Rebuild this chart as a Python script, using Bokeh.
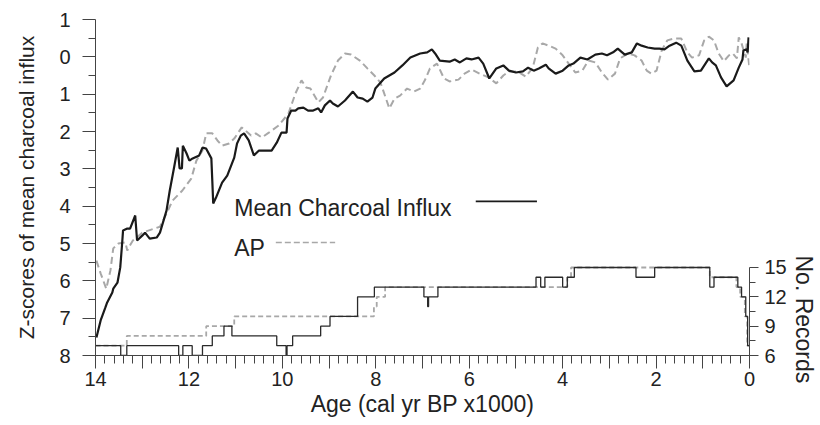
from bokeh.plotting import figure
from bokeh.models import Range1d, LinearAxis, FixedTicker, Label, Title
from bokeh.embed import file_html
from bokeh.resources import INLINE

# ---------------- data ----------------
charcoal_age = [13.98, 13.89, 13.79, 13.75, 13.64, 13.62, 13.53, 13.47, 13.43, 13.41, 13.32, 13.26,
                13.15, 13.11, 13.00, 12.94, 12.84, 12.69, 12.62, 12.48, 12.41, 12.31, 12.24, 12.20,
                12.15, 12.13, 12.05, 11.99, 11.92, 11.78, 11.71, 11.63, 11.52, 11.50, 11.48, 11.42,
                11.29, 11.18, 11.08, 11.03, 10.97, 10.89, 10.82, 10.72, 10.61, 10.50, 10.36, 10.23,
                10.12, 10.02, 9.91, 9.89, 9.81, 9.72, 9.66, 9.55, 9.45, 9.34, 9.23, 9.17, 9.09, 8.98,
                8.92, 8.81, 8.66, 8.49, 8.39, 8.28, 8.18, 8.07, 8.01, 7.82, 7.60, 7.43, 7.26, 7.05,
                6.90, 6.80, 6.73, 6.63, 6.42, 6.31, 6.20, 6.06, 5.95, 5.80, 5.70, 5.57, 5.42, 5.27,
                5.15, 5.00, 4.85, 4.74, 4.62, 4.51, 4.36, 4.30, 4.15, 4.00, 3.87, 3.77, 3.62, 3.47,
                3.30, 3.16, 3.05, 2.92, 2.82, 2.67, 2.52, 2.41, 2.31, 2.18, 2.03, 1.93, 1.82, 1.71,
                1.57, 1.46, 1.33, 1.18, 1.04, 0.87, 0.80, 0.72, 0.61, 0.49, 0.34, 0.23, 0.15, 0.13,
                0.06, 0.04, 0.02]
charcoal_z = [-7.52, -7.06, -6.72, -6.58, -6.31, -6.21, -6.05, -5.64, -5.00, -4.65, -4.60, -4.60,
              -4.25, -4.92, -4.79, -4.71, -4.87, -4.84, -4.71, -4.12, -3.58, -2.91, -2.43, -2.99,
              -2.99, -2.38, -2.59, -2.78, -2.72, -2.64, -2.43, -2.46, -2.72, -3.31, -3.93, -3.77,
              -3.37, -3.18, -2.86, -2.70, -2.32, -2.11, -2.05, -2.24, -2.64, -2.51, -2.51, -2.51,
              -2.30, -2.03, -2.03, -1.65, -1.44, -1.44, -1.38, -1.36, -1.44, -1.44, -1.38, -1.49,
              -1.30, -1.17, -1.25, -1.33, -1.17, -0.93, -1.09, -1.12, -1.20, -1.09, -0.85, -0.58,
              -0.42, -0.23, -0.02, 0.09, 0.12, 0.20, 0.09, -0.10, -0.13, -0.07, -0.15, -0.04, -0.07,
              -0.02, -0.18, -0.58, -0.31, -0.23, -0.37, -0.42, -0.39, -0.29, -0.37, -0.31, -0.21,
              -0.31, -0.45, -0.37, -0.23, -0.18, -0.02, -0.07, 0.06, 0.09, 0.04, 0.12, 0.22, 0.06,
              0.12, 0.36, 0.30, 0.25, 0.22, 0.22, 0.20, 0.30, 0.38, 0.30, -0.10, -0.39, -0.37,
              -0.04, -0.15, -0.23, -0.55, -0.79, -0.63, -0.29, -0.07, 0.17, 0.20, 0.12, 0.52]

ap_age = [13.98, 13.89, 13.77, 13.68, 13.62, 13.51, 13.36, 13.32, 13.26, 13.20, 13.00, 12.62,
          12.48, 12.35, 12.14, 11.95, 11.84, 11.71, 11.63, 11.50, 11.39, 11.29, 11.14, 11.03,
          10.87, 10.67, 10.57, 10.44, 10.29, 10.08, 9.87, 9.72, 9.59, 9.49, 9.40, 9.23, 9.13,
          8.96, 8.81, 8.66, 8.53, 8.34, 8.18, 8.03, 7.90, 7.82, 7.71, 7.60, 7.48, 7.33, 7.18,
          7.05, 6.95, 6.84, 6.69, 6.54, 6.42, 6.23, 6.10, 5.95, 5.78, 5.59, 5.42, 5.27, 5.15,
          4.96, 4.79, 4.64, 4.53, 4.43, 4.30, 4.15, 4.00, 3.87, 3.73, 3.58, 3.45, 3.30, 3.16,
          3.03, 2.88, 2.77, 2.60, 2.46, 2.31, 2.20, 2.10, 1.99, 1.88, 1.76, 1.61, 1.46, 1.33,
          1.23, 1.08, 0.97, 0.87, 0.76, 0.66, 0.55, 0.44, 0.36, 0.27, 0.23, 0.17, 0.08, 0.06, 0.00]
ap_z = [-5.46, -5.80, -6.21, -5.72, -5.13, -5.00, -4.97, -5.19, -5.05, -4.92, -4.71, -4.55,
        -4.20, -3.85, -3.58, -3.26, -2.78, -2.51, -2.05, -2.05, -2.24, -2.38, -2.32, -2.19,
        -1.89, -2.11, -2.05, -2.16, -2.03, -1.84, -1.52, -0.98, -0.63, -0.82, -0.85, -1.22,
        -1.09, -0.50, -0.10, 0.09, 0.06, -0.10, -0.31, -0.50, -0.69, -0.98, -1.38, -1.12,
        -1.04, -0.85, -0.93, -0.85, -0.63, -0.31, -0.18, -0.58, -0.66, -0.61, -0.45, -0.34,
        -0.45, -0.55, -0.71, -0.50, -0.39, -0.39, -0.53, -0.29, 0.25, 0.36, 0.30, 0.22, 0.04,
        -0.18, -0.42, -0.37, -0.10, -0.15, -0.42, -0.61, -0.45, -0.04, 0.09, 0.04, -0.10,
        -0.37, -0.45, -0.37, 0.17, 0.44, 0.49, 0.49, 0.12, -0.02, 0.04, 0.44, 0.54, 0.44,
        0.09, -0.12, 0.04, 0.09, -0.04, 0.52, 0.36, -0.02, 0.36, -0.31]

rec_charcoal_age = [14.0, 13.46, 13.33, 12.22, 12.13, 11.93, 11.71, 11.50, 11.25, 11.08, 10.12,
                    9.92, 9.90, 9.78, 9.18, 8.98, 8.39, 8.03, 6.97, 6.89, 6.87, 6.67, 4.57, 4.47,
                    4.38, 4.00, 3.90, 3.75, 2.43, 2.03, 0.85, 0.76, 0.25, 0.17, 0.08, 0.04, 0.0]
rec_charcoal_n = [7, 6, 7, 6, 7, 6, 7, 8, 9, 8, 7, 6, 7, 8, 9, 10, 12, 13, 12, 11, 12, 13, 14, 13,
                  14, 13, 14, 15, 14, 15, 13, 14, 13, 12, 10, 7, 7]

rec_ap_age = [14.0, 13.33, 11.63, 11.03, 8.04, 7.98, 7.80, 3.90, 3.82, 0.85, 0.28, 0.20, 0.10,
              0.05, 0.0]
rec_ap_n = [7, 8, 9, 10, 11, 12, 13, 14, 15, 14, 13, 12, 10, 7, 7]

z_ticks = [1, 0, -1, -2, -3, -4, -5, -6, -7, -8]
z_tick_labels = {v: str(abs(v)) for v in z_ticks}
age_ticks = list(range(0, 15))
age_tick_labels = {a: (str(a) if a % 2 == 0 else "") for a in age_ticks}
rec_ticks = [6, 9, 12, 15]

# ---------------- figure ----------------
FONT = "Liberation Sans"
TXT = "#222222"
AX = "#444444"

p = figure(width=820, height=423, x_range=Range1d(14, 0), y_range=Range1d(-8, 1),
           output_backend="svg", toolbar_location=None,
           min_border_left=95, min_border_top=19, min_border_right=64, min_border_bottom=68)
p.outline_line_color = None
p.xgrid.visible = False
p.ygrid.visible = False

p.extra_y_ranges = {"rec": Range1d(6, 6 + 336 / 9.78)}

# left axis
ya = p.yaxis[0]
ya.ticker = FixedTicker(ticks=z_ticks, minor_ticks=[v - 0.5 for v in z_ticks[:-1]])
ya.major_label_overrides = z_tick_labels
ya.axis_label = "Z-scores of mean charcoal influx"
ya.axis_label_text_font = FONT
ya.axis_label_text_font_size = "21px"
ya.axis_label_text_font_style = "normal"
ya.axis_label_text_color = TXT
ya.axis_label_standoff = 18
ya.major_label_text_font = FONT
ya.major_label_text_font_size = "20px"
ya.major_label_text_color = TXT
ya.major_label_standoff = 12
ya.major_tick_out = 13
ya.major_tick_in = 0
ya.minor_tick_out = 7
ya.minor_tick_in = 0
ya.axis_line_color = AX
ya.major_tick_line_color = AX
ya.minor_tick_line_color = AX

# bottom axis
xa = p.xaxis[0]
xa.ticker = FixedTicker(ticks=age_ticks,
                        minor_ticks=[round(i * 0.2, 1) for i in range(0, 71)])
xa.major_label_overrides = age_tick_labels
xa.axis_label = "Age (cal yr BP x1000)"
xa.axis_label_text_font = FONT
xa.axis_label_text_font_size = "23px"
xa.axis_label_text_font_style = "normal"
xa.axis_label_text_color = TXT
xa.axis_label_standoff = 2
xa.major_label_text_font = FONT
xa.major_label_text_font_size = "20px"
xa.major_label_text_color = TXT
xa.major_label_standoff = 3
xa.major_tick_out = 13
xa.major_tick_in = 0
xa.minor_tick_out = 8
xa.minor_tick_in = 0
xa.axis_line_color = AX
xa.major_tick_line_color = AX
xa.minor_tick_line_color = AX

# right axis
ra = LinearAxis(y_range_name="rec", bounds=(6, 15),
                ticker=FixedTicker(ticks=rec_ticks, minor_ticks=[7.5, 10.5, 13.5]))
ra.major_label_text_font = FONT
ra.major_label_text_font_size = "20px"
ra.major_label_text_color = TXT
ra.major_label_standoff = 6
ra.major_tick_out = 9
ra.major_tick_in = 0
ra.minor_tick_out = 6
ra.minor_tick_in = 0
ra.axis_line_color = AX
ra.major_tick_line_color = AX
ra.minor_tick_line_color = AX
p.add_layout(ra, "right")

# right-hand title for the record counts (starts part-way down, reads top to bottom)
rt = Title(text="No. Records", align="left", offset=236, standoff=3,
           text_font=FONT, text_font_size="23px", text_font_style="normal",
           text_color=TXT)
p.add_layout(rt, "right")

# record-count steps
p.step(rec_ap_age, rec_ap_n, mode="after", y_range_name="rec",
       line_color="#a8a8a8", line_width=1.8, line_dash="5 3")
p.step(rec_charcoal_age, rec_charcoal_n, mode="after", y_range_name="rec",
       line_color="#2a2a2a", line_width=1.3)

# main curves
p.line(ap_age, ap_z, line_color="#a8a8a8", line_width=2, line_dash="7 4")
p.line(charcoal_age, charcoal_z, line_color="#1a1a1a", line_width=2.2)

# hand-made legend (label left, key right)
p.add_layout(Label(x=11.03, y=-4.04, text="Mean Charcoal Influx", text_font=FONT,
                   text_font_size="23px", text_color=TXT, text_baseline="alphabetic"))
p.add_layout(Label(x=11.03, y=-5.13, text="AP", text_font=FONT,
                   text_font_size="23px", text_color=TXT, text_baseline="alphabetic"))
p.line([5.86, 4.55], [-3.87, -3.87], line_color="#1a1a1a", line_width=1.8)
p.line([10.14, 8.87], [-4.97, -4.97], line_color="#a8a8a8", line_width=1.5, line_dash="6 3")

open("out.html", "w").write(file_html(p, INLINE))
